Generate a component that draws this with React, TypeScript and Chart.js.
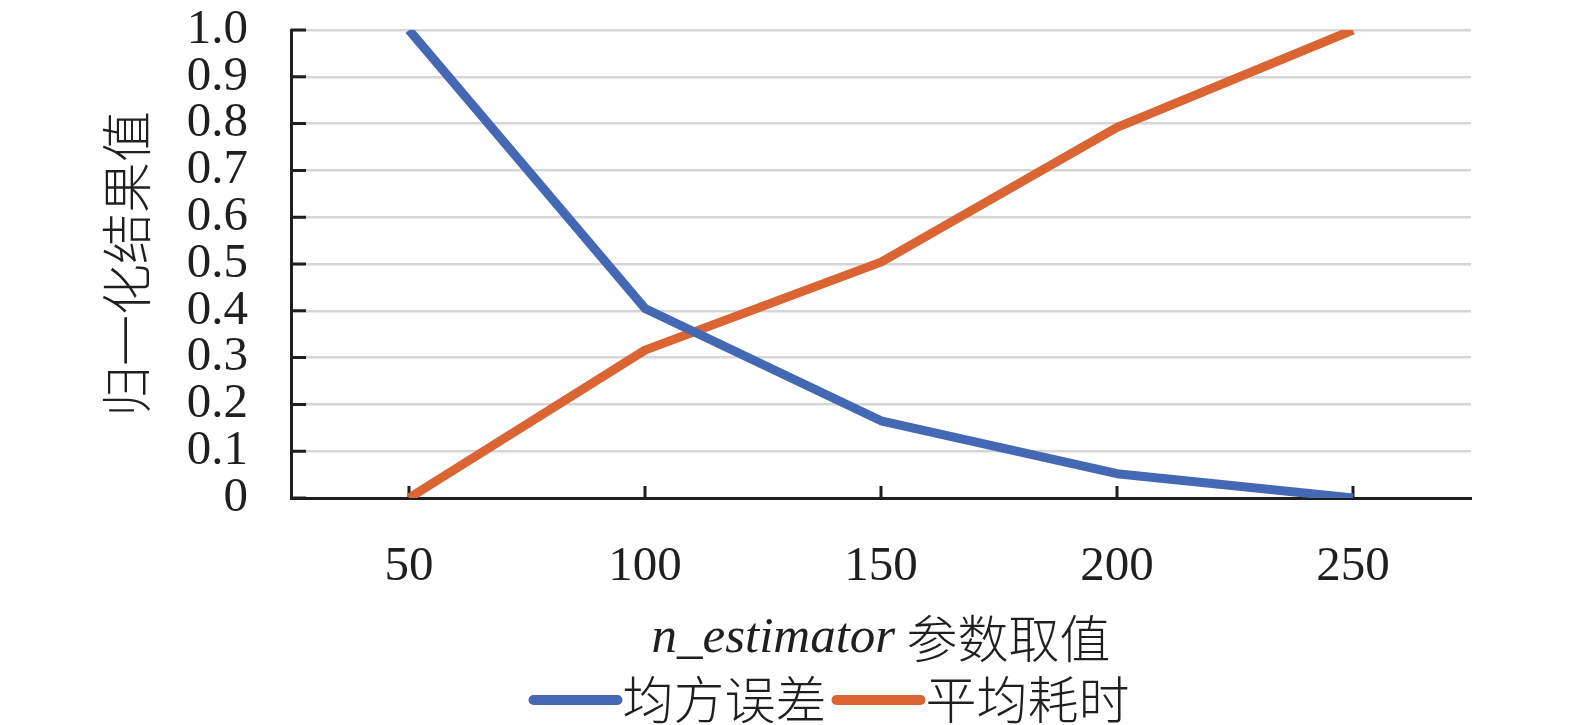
import React, { useEffect, useRef } from 'react';
import { Chart, registerables } from 'chart.js';

Chart.register(...registerables);

// n_estimator values on the x axis
const nEstimators = ['50', '100', '150', '200', '250'];
// normalised results
const mseValues = [1.0, 0.405, 0.165, 0.052, 0.0];
const timeValues = [0.0, 0.316, 0.504, 0.792, 1.0];
const yTickLabels = ['0', '0.1', '0.2', '0.3', '0.4', '0.5', '0.6', '0.7', '0.8', '0.9', '1.0'];

const seriesNames = ['均方误差', '平均耗时'];
const seriesColors = ['#4468B4', '#DA6533'];
const yAxisTitle = '归一化结果值';
const xTitleItalic = 'n_estimator';
const xTitleRest = ' 参数取值';

const SERIF = '"Liberation Serif", "Times New Roman", serif';
const CJK = '"Noto Sans CJK SC", sans-serif';
const INK = '#1f1f1f';
const W = 1575;
const H = 725;

// Excel-style tick marks that point into the plot area
const inwardTicks = {
    id: 'inwardTicks',
    beforeDatasetsDraw(chart: any) {
        const { ctx, chartArea, scales } = chart;
        ctx.save();
        ctx.strokeStyle = INK;
        ctx.lineWidth = 3;
        ctx.beginPath();
        scales.y.ticks.forEach((t: any) => {
            const y = scales.y.getPixelForValue(t.value);
            ctx.moveTo(chartArea.left, y);
            ctx.lineTo(chartArea.left + 15, y);
        });
        nEstimators.forEach((_, i) => {
            const x = scales.x.getPixelForValue(i);
            ctx.moveTo(x, chartArea.bottom);
            ctx.lineTo(x, chartArea.bottom - 12);
        });
        ctx.stroke();
        ctx.restore();
    },
};

// x axis title (mixed italic / CJK) and the line legend under it
const bottomTexts = {
    id: 'bottomTexts',
    afterDraw(chart: any) {
        const { ctx, chartArea } = chart;
        const cx = (chartArea.left + chartArea.right) / 2;
        ctx.save();
        ctx.fillStyle = INK;
        ctx.textBaseline = 'middle';
        ctx.textAlign = 'left';

        const italicFont = `italic 51px ${SERIF}`;
        const cjkFont = `300 51px ${CJK}`;
        ctx.font = italicFont;
        const w1 = ctx.measureText(xTitleItalic).width;
        ctx.font = cjkFont;
        const w2 = ctx.measureText(xTitleRest).width;
        const titleY = chartArea.bottom + 141;
        let x = cx - (w1 + w2) / 2;
        ctx.font = italicFont;
        ctx.fillText(xTitleItalic, x, titleY);
        ctx.font = cjkFont;
        ctx.fillText(xTitleRest, x + w1, titleY);

        // legend
        const lineLen = 94;
        const gap = 5;
        const legendY = chartArea.bottom + 202;
        ctx.font = cjkFont;
        const widths = seriesNames.map((s) => ctx.measureText(s).width);
        const total = widths.reduce((a, w) => a + w + lineLen, 0) + gap * (seriesNames.length - 1);
        x = cx - 52 - total / 2;
        chart.data.datasets.forEach((ds: any, i: number) => {
            ctx.strokeStyle = ds.borderColor;
            ctx.lineWidth = 10;
            ctx.lineCap = 'round';
            ctx.beginPath();
            ctx.moveTo(x + 5, legendY);
            ctx.lineTo(x + lineLen - 5, legendY);
            ctx.stroke();
            ctx.fillText(ds.label, x + lineLen, legendY);
            x += lineLen + widths[i] + gap;
        });
        ctx.restore();
    },
};

const App: React.FC = () => {
    const canvasRef = useRef<HTMLCanvasElement>(null);
    const chartRef = useRef<Chart | null>(null);

    useEffect(() => {
        if (!canvasRef.current) return;
        if (chartRef.current) chartRef.current.destroy();

        chartRef.current = new Chart(canvasRef.current, {
            type: 'line',
            data: {
                labels: nEstimators,
                datasets: [
                    {
                        label: seriesNames[0],
                        data: mseValues,
                        borderColor: seriesColors[0],
                        backgroundColor: seriesColors[0],
                        borderWidth: 9,
                        pointRadius: 0,
                        borderJoinStyle: 'round',
                        tension: 0,
                    },
                    {
                        label: seriesNames[1],
                        data: timeValues,
                        borderColor: seriesColors[1],
                        backgroundColor: seriesColors[1],
                        borderWidth: 9,
                        pointRadius: 0,
                        borderJoinStyle: 'round',
                        tension: 0,
                    },
                ],
            },
            options: {
                responsive: false,
                animation: false,
                devicePixelRatio: 1,
                layout: { padding: { left: 0, right: 104, top: 30, bottom: 0 } },
                plugins: {
                    legend: { display: false },
                    tooltip: { enabled: false },
                },
                scales: {
                    x: {
                        offset: true,
                        grid: { display: false },
                        border: { display: true, color: INK, width: 3 },
                        ticks: {
                            color: INK,
                            font: { family: SERIF, size: 49 },
                            padding: 32,
                            autoSkip: false,
                            maxRotation: 0,
                        },
                        afterFit: (scale: any) => {
                            scale.height = 227;
                            scale.paddingLeft = 0;
                            scale.paddingRight = 0;
                        },
                    },
                    y: {
                        min: 0,
                        max: 1,
                        grid: { color: '#d6d6d6', lineWidth: 2.5, drawTicks: false },
                        border: { display: true, color: INK, width: 3 },
                        ticks: {
                            stepSize: 0.1,
                            autoSkip: false,
                            color: INK,
                            font: { family: SERIF, size: 49 },
                            padding: 43,
                            callback: (_v: any, i: number) => yTickLabels[i],
                        },
                        title: {
                            display: true,
                            text: yAxisTitle,
                            color: INK,
                            font: { family: CJK, size: 51, weight: '300', lineHeight: 1 },
                            padding: { top: 101, bottom: 0 },
                        },
                        afterFit: (scale: any) => {
                            scale.width = 291;
                            scale.paddingTop = 0;
                            scale.paddingBottom = 0;
                        },
                    },
                },
            },
            plugins: [inwardTicks, bottomTexts],
        });

        return () => {
            if (chartRef.current) chartRef.current.destroy();
            chartRef.current = null;
        };
    }, []);

    return (
        <div style={{ position: 'fixed', left: 0, top: 0, width: W, height: H, background: '#fff' }}>
            <canvas ref={canvasRef} width={W} height={H} style={{ width: W, height: H, display: 'block' }}></canvas>
        </div>
    );
};

export default App;
